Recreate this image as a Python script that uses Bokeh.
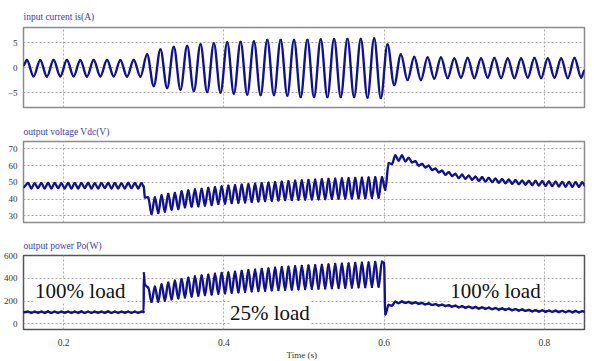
import numpy as np
from bokeh.plotting import figure
from bokeh.layouts import column
from bokeh.models import FixedTicker, Label, Title
from bokeh.embed import file_html
from bokeh.resources import INLINE

# ---------------- data ----------------
time_range = (0.15, 0.85)
time_ticks = [0.2, 0.4, 0.6, 0.8]

# input current: one peak and one trough per 60 Hz line cycle
cur_t0 = 0.1542
cur_period = 1 / 60
cur_start = [0.15, 0.4]
cur_end = [0.85, -0.6]
cur_peaks = [1.5, 1.45, 1.5, 1.5, 1.45, 1.5, 1.5, 1.45, 1.5,
             2.6, 3.6, 4.1, 4.3, 4.6, 4.8, 5.0, 5.1, 5.2, 5.5, 5.5,
             5.5, 5.5, 5.6, 5.7, 5.7, 5.7, 5.8,
             4.6, 2.6, 2.1, 2.0, 2.0,
             1.8, 1.9, 1.8, 1.9, 1.8, 1.8, 1.9, 1.8, 1.8, 1.9]
cur_troughs = [-1.75, -1.8, -1.75, -1.75, -1.8, -1.75, -1.75, -1.8, -1.8,
               -3.7, -4.1, -4.4, -4.7, -4.9, -5.0, -5.2, -5.4, -5.5, -5.5,
               -5.6, -5.9, -5.9, -5.9, -5.9, -5.9, -6.0, -6.1,
               -3.5, -2.5, -2.5, -2.2,
               -2.1, -2.0, -2.1, -2.0, -2.1, -2.1, -2.0, -2.1, -2.0, -2.1, -2.0]
cur_ticks = [-5, 0, 5]
cur_yrange = (-8, 8)

# output voltage: one peak and one trough per 120 Hz ripple cycle
rip_t0 = 0.1556
rip_period = 1 / 120
vdc_start = [0.15, 47.0]
vdc_extra_t = [0.3000]
vdc_extra_v = [47.5]
vdc_peaks = [49.6, 49.4, 49.5, 49.6, 49.5, 49.4, 49.6, 49.5, 49.5, 49.6, 49.4, 49.5,
             49.6, 49.5, 49.4, 49.6, 49.5, 49.5,
             41.0, 41.0, 42.1, 43.1, 43.7, 44.5, 45.1, 45.7, 46.1, 46.7, 47.1, 47.5,
             48.0, 48.3, 48.6, 48.9, 49.2, 49.5, 49.8, 50.1, 50.4, 50.7, 51.0, 51.2,
             51.4, 51.6, 51.8, 52.0, 52.2, 52.3, 52.5, 52.6, 52.8, 52.9, 53.0, 53.1,
             61.5, 66.0, 66.0, 64.6, 62.6, 61.0, 60.0, 58.2, 57.0, 56.0, 55.0, 54.5,
             54.0, 53.4, 53.0, 52.6, 52.2, 51.9, 51.6, 51.3, 51.0, 50.9, 50.8, 50.7,
             50.6, 50.4, 50.3, 50.2, 50.1, 50.0]
vdc_troughs = [46.5, 46.6, 46.4, 46.5, 46.6, 46.5, 46.4, 46.5, 46.6, 46.5, 46.4, 46.6,
               46.5, 46.5, 46.4, 46.6, 46.5, 41.0,
               31.1, 31.7, 32.5, 33.7, 34.1, 35.1, 35.5, 35.7, 36.1, 36.5, 37.1, 37.3,
               37.6, 37.8, 38.0, 38.3, 38.6, 38.8, 39.0, 39.2, 39.4, 39.5, 39.6, 39.7,
               39.8, 39.9, 40.0, 40.1, 40.2, 40.3, 40.4, 40.5, 40.6, 40.7, 40.8, 45.5,
               61.0, 63.0, 62.6, 62.0, 60.0, 59.0, 57.4, 56.0, 54.6, 53.8, 52.6, 52.2,
               51.6, 51.0, 50.6, 50.2, 49.9, 49.5, 49.2, 49.0, 48.7, 48.4, 48.2, 48.0,
               47.8, 47.6, 47.5, 47.4, 47.4, 47.5]
vdc_ticks = [30, 40, 50, 60, 70]
vdc_yrange = (26, 74.4)

# output power: same ripple timing
po_start = [0.15, 101]
po_extra_t = [0.2999, 0.3002, 0.5999]
po_extra_v = [104, 444, 535]
po_peaks = [107, 106, 107, 108, 107, 106, 107, 107, 108, 107, 106, 107,
            108, 107, 106, 107, 107, 106,
            318, 326, 345, 362, 378, 392, 404, 415, 424, 432, 440, 446,
            452, 458, 464, 470, 476, 482, 487, 492, 497, 501, 505, 509,
            512, 515, 518, 522, 525, 528, 531, 534, 537, 540, 543, 546,
            165, 194, 196, 192, 188, 183, 178, 173, 168, 163, 158, 154,
            151, 147, 144, 141, 138, 135, 132, 129, 126, 121, 119, 118,
            116, 115, 114, 113, 112, 111]
po_troughs = [97, 98, 97, 96, 97, 98, 97, 97, 96, 97, 98, 97,
              96, 97, 98, 97, 97, 342,
              193, 196, 205, 215, 224, 232, 240, 246, 252, 258, 264, 269,
              273, 277, 281, 285, 288, 291, 294, 297, 299, 301, 303, 305,
              307, 309, 311, 313, 315, 317, 319, 321, 322, 324, 325, 83,
              160, 182, 184, 180, 176, 171, 166, 161, 156, 151, 146, 142,
              139, 135, 132, 129, 126, 123, 120, 117, 114, 110, 108, 106,
              105, 104, 103, 102, 101, 100]
po_ticks = [0, 200, 400, 600]
po_yrange = (-50, 600)

titles = ["input current is(A)", "output voltage Vdc(V)", "output power Po(W)"]
x_title = "Time (s)"
load_texts = ["100% load", "25% load", "100% load"]
load_x = [0.1645, 0.4076, 0.6825]
load_y = [285, 97, 285]

# ---------------- styling ----------------
WAVE = "#12128c"
TITLE_C = "#3c3ca6"
TICK_C = "#333333"
GRID_C = "#a8a8a8"
NARROW = "Liberation Sans Narrow"
A = 1 - 2 / np.pi  # bezier handle fraction for a half sine


def build(t0, period, peaks, troughs, start=None, end=None, extra_t=(), extra_v=()):
    ts, vs = [], []
    if start:
        ts.append(start[0]); vs.append(start[1])
    for i, (pk, tr) in enumerate(zip(peaks, troughs)):
        ts += [t0 + i * period, t0 + (i + 0.5) * period]
        vs += [pk, tr]
    ts += list(extra_t); vs += list(extra_v)
    if end:
        ts.append(end[0]); vs.append(end[1])
    ts = np.array(ts); vs = np.array(vs, dtype=float)
    o = np.argsort(ts, kind="stable")
    return ts[o], vs[o]


def make_fig(title, height, top, bottom, yrange, yticks, show_x, t_standoff):
    p = figure(width=588, height=height, x_range=time_range, y_range=yrange,
               output_backend="svg", toolbar_location=None,
               x_axis_location="below" if show_x else None,
               min_border_left=19, min_border_right=4,
               min_border_top=top, min_border_bottom=bottom)
    p.title.text = title
    p.title.text_font = NARROW
    p.title.text_font_size = "9.5px"
    p.title.text_font_style = "normal"
    p.title.text_color = TITLE_C
    p.title.align = "left"
    p.title.vertical_align = "middle"
    p.title.standoff = t_standoff
    p.outline_line_color = "#8a8a8a"
    p.outline_line_width = 1.5
    p.background_fill_color = "white"
    p.border_fill_color = "white"

    p.yaxis.ticker = FixedTicker(ticks=yticks)
    p.yaxis.axis_line_color = None
    p.yaxis.major_tick_line_color = None
    p.yaxis.major_tick_out = 0
    p.yaxis.major_tick_in = 0
    p.yaxis.minor_tick_line_color = None
    p.yaxis.major_label_text_font = NARROW
    p.yaxis.major_label_text_font_size = "9px"
    p.yaxis.major_label_text_color = TICK_C
    p.yaxis.major_label_standoff = 6

    p.xgrid.ticker = FixedTicker(ticks=time_ticks)
    p.ygrid.ticker = FixedTicker(ticks=yticks)
    for g in (p.xgrid, p.ygrid):
        g.grid_line_color = GRID_C
        g.grid_line_dash = "2 2"
        g.grid_line_width = 1
    if show_x:
        p.xaxis.ticker = FixedTicker(ticks=time_ticks)
        p.xaxis.axis_line_color = None
        p.xaxis.major_tick_line_color = None
        p.xaxis.major_tick_out = 0
        p.xaxis.major_tick_in = 0
        p.xaxis.minor_tick_line_color = None
        p.xaxis.major_label_text_font = NARROW
        p.xaxis.major_label_text_font_size = "9.5px"
        p.xaxis.major_label_text_color = TICK_C
        p.xaxis.major_label_standoff = 9
        p.add_layout(Title(text=x_title, align="left", offset=263, standoff=0,
                           vertical_align="middle", text_font=NARROW,
                           text_font_size="9px", text_font_style="normal",
                           text_color=TICK_C), "below")
    return p


def draw_wave(p, ts, vs):
    dt = ts[1:] - ts[:-1]
    p.bezier(x0=ts[:-1], y0=vs[:-1], x1=ts[1:], y1=vs[1:],
             cx0=ts[:-1] + A * dt, cy0=vs[:-1], cx1=ts[1:] - A * dt, cy1=vs[1:],
             line_color=WAVE, line_width=2.4, line_cap="round")


p1 = make_fig(titles[0], 120, 27, 13, cur_yrange, cur_ticks, False, 10)
t, v = build(cur_t0, cur_period, cur_peaks, cur_troughs, start=cur_start, end=cur_end)
draw_wave(p1, t, v)

p2 = make_fig(titles[1], 114, 21, 12, vdc_yrange, vdc_ticks, False, 8)
t, v = build(rip_t0, rip_period, vdc_peaks, vdc_troughs, start=vdc_start,
             extra_t=vdc_extra_t, extra_v=vdc_extra_v)
draw_wave(p2, t, v)

p3 = make_fig(titles[2], 127, 21, 32, po_yrange, po_ticks, True, 8)
p3.outline_line_color = "#555555"
for txt, lx, ly in zip(load_texts, load_x, load_y):
    p3.add_layout(Label(x=lx, y=ly, text=txt, text_font="Liberation Serif",
                        text_font_size="21px", text_color="#111111",
                        text_baseline="alphabetic", level="underlay",
                        background_fill_color="white", background_fill_alpha=1.0))
t, v = build(rip_t0, rip_period, po_peaks, po_troughs, start=po_start,
             extra_t=po_extra_t, extra_v=po_extra_v)
draw_wave(p3, t, v)

layout = column(p1, p2, p3, spacing=0)
open("out.html", "w").write(file_html(layout, INLINE))
